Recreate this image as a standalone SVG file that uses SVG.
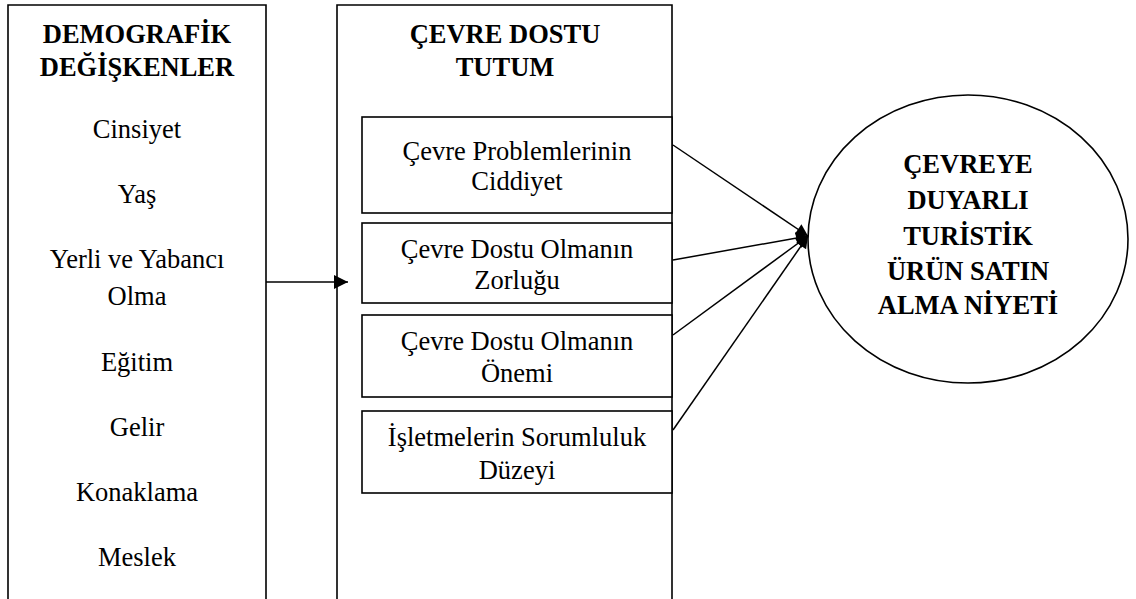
<svg xmlns="http://www.w3.org/2000/svg" width="1136" height="599" viewBox="0 0 1136 599">
<defs>
<style>
.frame{fill:none;stroke:#000;stroke-width:1.6}
.box{fill:#fff;stroke:#000;stroke-width:1.6}
.conn{fill:none;stroke:#000;stroke-width:1.5}
</style>
<marker id="ah" viewBox="0 0 10 10" refX="10" refY="5" markerWidth="13" markerHeight="12" markerUnits="userSpaceOnUse" orient="auto">
<path d="M0,0 L10,5 L0,10 Z" fill="#000"/>
</marker>
<marker id="ah2" viewBox="0 0 10 10" refX="10" refY="5" markerWidth="15" markerHeight="14" markerUnits="userSpaceOnUse" orient="auto">
<path d="M0,0 L10,5 L0,10 Z" fill="#000"/>
</marker>
</defs>
<rect width="1136" height="599" fill="#fff"/>

<g id="demografik">
<path class="frame" d="M8,605 V5 H266 V605"/>
<g font-family="Liberation Serif" font-size="26.5" text-anchor="middle" fill="#000">
<text font-weight="bold" x="137" y="43">DEMOGRAFİK</text>
<text font-weight="bold" x="137" y="76">DEĞİŞKENLER</text>
<text x="137" y="138">Cinsiyet</text>
<text x="137" y="203">Yaş</text>
<text x="137" y="268">Yerli ve Yabancı</text>
<text x="137" y="305">Olma</text>
<text x="137" y="371">Eğitim</text>
<text x="137" y="436">Gelir</text>
<text x="137" y="501">Konaklama</text>
<text x="137" y="566">Meslek</text>
</g>
</g>

<g id="tutum">
<path class="frame" d="M337,605 V5 H672 V605"/>
<g font-family="Liberation Serif" font-size="26.5" text-anchor="middle" font-weight="bold" fill="#000">
<text x="505" y="43">ÇEVRE DOSTU</text>
<text x="505" y="76">TUTUM</text>
</g>
</g>

<g id="ciddiyet">
<rect class="box" x="362" y="117" width="310" height="96"/>
<g font-family="Liberation Serif" font-size="26.5" text-anchor="middle" fill="#000">
<text x="517" y="160">Çevre Problemlerinin</text>
<text x="517" y="190">Ciddiyet</text>
</g>
</g>

<g id="zorlugu">
<rect class="box" x="362" y="223" width="310" height="80"/>
<g font-family="Liberation Serif" font-size="26.5" text-anchor="middle" fill="#000">
<text x="517" y="258">Çevre Dostu Olmanın</text>
<text x="517" y="289">Zorluğu</text>
</g>
</g>

<g id="onemi">
<rect class="box" x="362" y="315" width="310" height="82"/>
<g font-family="Liberation Serif" font-size="26.5" text-anchor="middle" fill="#000">
<text x="517" y="350">Çevre Dostu Olmanın</text>
<text x="517" y="382">Önemi</text>
</g>
</g>

<g id="sorumluluk">
<rect class="box" x="362" y="411" width="310" height="82"/>
<g font-family="Liberation Serif" font-size="26.5" text-anchor="middle" fill="#000">
<text x="517" y="446">İşletmelerin Sorumluluk</text>
<text x="517" y="479">Düzeyi</text>
</g>
</g>

<g id="niyet">
<ellipse class="box" cx="968" cy="239" rx="160" ry="144"/>
<g font-family="Liberation Serif" font-size="26.5" text-anchor="middle" font-weight="bold" fill="#000">
<text x="968" y="173">ÇEVREYE</text>
<text x="968" y="209">DUYARLI</text>
<text x="968" y="245">TURİSTİK</text>
<text x="968" y="280">ÜRÜN SATIN</text>
<text x="968" y="314">ALMA NİYETİ</text>
</g>
</g>

<g id="connectors">
<line class="conn" x1="266" y1="282" x2="348" y2="282" marker-end="url(#ah2)"/>
<line class="conn" x1="673" y1="145" x2="808" y2="236" marker-end="url(#ah)"/>
<line class="conn" x1="673" y1="260" x2="808" y2="236" marker-end="url(#ah)"/>
<line class="conn" x1="673" y1="335" x2="808" y2="236" marker-end="url(#ah)"/>
<line class="conn" x1="673" y1="430" x2="808" y2="236" marker-end="url(#ah)"/>
</g>
</svg>
